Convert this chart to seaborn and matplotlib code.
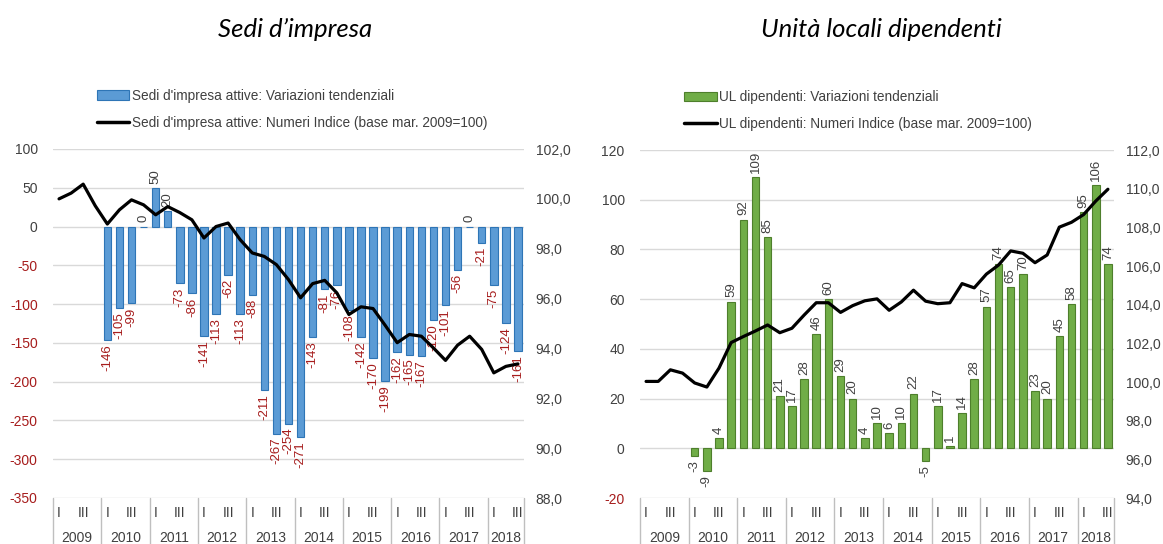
import numpy as np
import pandas as pd
import seaborn as sns
import matplotlib.pyplot as plt
from matplotlib.patches import Patch
from matplotlib.lines import Line2D
from matplotlib.ticker import FuncFormatter

sns.set_style("white")
plt.rcParams['font.family'] = ['Liberation Sans', 'DejaVu Sans']

# --- data (quarters 2009 Q1 .. 2018 Q3) ---
years = ['2009', '2010', '2011', '2012', '2013', '2014', '2015', '2016', '2017', '2018']
quarters_per_year = [4, 4, 4, 4, 4, 4, 4, 4, 4, 3]

sedi_var = [np.nan, np.nan, np.nan, np.nan,
            -146, -105, -99, 0,
            50, 20, -73, -86,
            -141, -113, -62, -113,
            -88, -211, -267, -254,
            -271, -143, -81, -76,
            -108, -142, -170, -199,
            -162, -165, -167, -120,
            -101, -56, 0, -21,
            -75, -124, -161]
sedi_idx = [100.0, 100.23, 100.59, 99.72,
            98.99, 99.56, 99.96, 99.76,
            99.36, 99.69, 99.45, 99.16,
            98.43, 98.89, 99.03, 98.36,
            97.83, 97.69, 97.36, 96.76,
            96.03, 96.6, 96.73, 96.23,
            95.36, 95.67, 95.6, 94.93,
            94.23, 94.56, 94.49, 94.02,
            93.52, 94.13, 94.49, 93.96,
            93.02, 93.28, 93.38]

ul_var = [np.nan, np.nan, np.nan, np.nan,
          -3, -9, 4, 59,
          92, 109, 85, 21,
          17, 28, 46, 60,
          29, 20, 4, 10,
          6, 10, 22, -5,
          17, 1, 14, 28,
          57, 74, 65, 70,
          23, 20, 45, 58,
          95, 106, 74]
ul_idx = [100.03, 100.03, 100.63, 100.46,
          99.95, 99.74, 100.72, 102.04,
          102.35, 102.64, 102.95, 102.55,
          102.78, 103.46, 104.1, 104.1,
          103.6, 103.95, 104.2, 104.3,
          103.71, 104.14, 104.75, 104.18,
          104.05, 104.1, 105.09, 104.87,
          105.58, 106.05, 106.78, 106.66,
          106.17, 106.57, 108.01, 108.26,
          108.66, 109.36, 109.97]

n = len(sedi_var)
pos = list(range(n))

TXT = '#404040'
RED = '#A61C1C'
GRID = '#D9D9D9'


def comma(v, _):
    return f'{v:.1f}'.replace('.', ',')


def draw_panel(ax, var, idx, fill, edge, left_ticks, right_lim, right_ticks,
               neg_label_red, labels, title, title_x):
    df = pd.DataFrame({'pos': pos, 'var': var})
    sns.barplot(data=df, x='pos', y='var', order=pos, color=fill,
                saturation=1, width=0.62, edgecolor=edge, linewidth=0.8,
                errorbar=None, ax=ax)
    ax.set_xlim(-0.5, n - 0.5)
    ax.set_ylim(left_ticks[0], left_ticks[-1])
    ax.set_yticks(left_ticks)
    ax.set_yticklabels([str(t) for t in left_ticks])
    for t, lab in zip(left_ticks, ax.get_yticklabels()):
        lab.set_color(RED if t < 0 else TXT)
    ax.tick_params(axis='y', length=0, pad=11, labelsize=10)
    ax.set_xticks([])
    ax.set_xlabel('')
    ax.set_ylabel('')
    ax.yaxis.grid(True, color=GRID, lw=1)
    ax.set_axisbelow(True)
    for s in ax.spines.values():
        s.set_visible(False)

    # bar value labels
    for i, v in enumerate(var):
        if np.isnan(v):
            continue
        col = RED if (v < 0 and neg_label_red) else TXT
        if v >= 0:
            ax.annotate(f'{int(v)}', (i, v), xytext=(0, 3), textcoords='offset points',
                        rotation=90, ha='center', va='bottom', fontsize=9.5, color=col)
        else:
            ax.annotate(f'{int(v)}', (i, v), xytext=(0, -3), textcoords='offset points',
                        rotation=90, ha='center', va='top', fontsize=9.5, color=col)

    # category axis: quarters and years
    tr = ax.get_xaxis_transform()
    start = -0.5
    bounds = [start]
    for y, q in zip(years, quarters_per_year):
        ax.text(start + 0.5, -0.043, 'I', transform=tr, ha='center', va='center',
                fontsize=10, color=TXT)
        ax.text(start + 2.5, -0.043, 'III', transform=tr, ha='center', va='center',
                fontsize=10, color=TXT)
        ax.text(start + q / 2, -0.115, y, transform=tr, ha='center', va='center',
                fontsize=10, color=TXT)
        start += q
        bounds.append(start)
    for b in bounds:
        ax.plot([b, b], [0, -0.2], transform=tr, color='#BFBFBF', lw=1, clip_on=False)

    # index line on secondary axis
    ax2 = ax.twinx()
    sns.lineplot(x=pos, y=idx, color='black', lw=2.3, ax=ax2)
    ax2.set_ylim(*right_lim)
    ax2.set_yticks(right_ticks)
    ax2.yaxis.set_major_formatter(FuncFormatter(comma))
    ax2.tick_params(axis='y', length=0, pad=8.5, labelsize=10, labelcolor=TXT)
    for s in ax2.spines.values():
        s.set_visible(False)

    handles = [Patch(facecolor=fill, edgecolor=edge, lw=0.8),
               Line2D([], [], color='black', lw=2.5)]
    ax.legend(handles, labels, loc='upper left', bbox_to_anchor=(0.093, 1.172),
              frameon=False, fontsize=9.8, labelcolor=TXT, handlelength=2.4,
              handletextpad=0.2, labelspacing=0.95, borderpad=0, borderaxespad=0)

    fig.text(title_x, 0.946, title, ha='center', va='center', fontsize=18.5,
             style='italic', family=['Lato', 'DejaVu Sans'], color='black')


fig = plt.figure(figsize=(11.63, 5.44), dpi=100)
ax_l = fig.add_axes([53 / 1163, 46 / 544, 471 / 1163, 349 / 544])
ax_r = fig.add_axes([640 / 1163, 46 / 544, 474 / 1163, 348 / 544])

draw_panel(ax_l, sedi_var, sedi_idx, '#5B9BD5', '#2E75B6',
           [-350, -300, -250, -200, -150, -100, -50, 0, 50, 100],
           (88, 102), [88, 90, 92, 94, 96, 98, 100, 102], True,
           ["Sedi d'impresa attive: Variazioni tendenziali",
            "Sedi d'impresa attive: Numeri Indice (base mar. 2009=100)"],
           "Sedi d\u2019impresa", 295 / 1163)

draw_panel(ax_r, ul_var, ul_idx, '#70AD47', '#4E7F2C',
           [-20, 0, 20, 40, 60, 80, 100, 120],
           (94, 112), [94, 96, 98, 100, 102, 104, 106, 108, 110, 112], False,
           ["UL dipendenti: Variazioni tendenziali",
            "UL dipendenti: Numeri Indice (base mar. 2009=100)"],
           "Unit\u00e0 locali dipendenti", 881 / 1163)

fig.savefig('out.png', dpi=100)
